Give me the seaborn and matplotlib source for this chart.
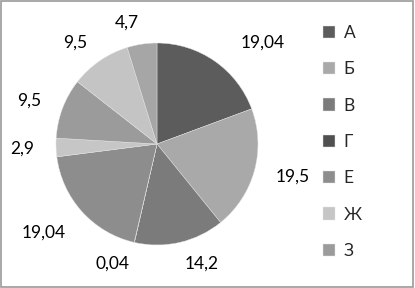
import matplotlib
matplotlib.use("Agg")
import matplotlib.pyplot as plt
import seaborn as sns
from matplotlib.patches import Rectangle

categories = ["А", "Б", "В", "Г", "Е", "Ж", "З", "И", "К"]
values = [19.04, 19.5, 14.2, 0.04, 19.04, 2.9, 9.5, 9.5, 4.7]
colors = ["#5c5c5c", "#a9a9a9", "#7b7b7b", "#505050", "#8d8d8d",
          "#c6c6c6", "#9b9b9b", "#c4c4c4", "#a6a6a6"]
legend_count = 7

sns.set_style("white")
plt.rcParams["font.family"] = ["Lato", "DejaVu Sans"]

fig = plt.figure(figsize=(4.15, 2.88), dpi=100)
ax = fig.add_axes([56 / 415, 43 / 288, 202 / 415, 202 / 288])

labels = [f"{v:g}".replace(".", ",") for v in values]
wedges, texts = ax.pie(values, colors=colors, startangle=90, counterclock=False,
                       labels=labels, labeldistance=1.22,
                       wedgeprops=dict(edgecolor="#e6e6e6", linewidth=0.3),
                       textprops=dict(fontsize=12.5, color="black"))
ax.set_xlim(-1, 1)
ax.set_ylim(-1, 1)
ax.set_aspect("equal")
for t in texts:
    t.set_clip_on(False)
# Excel puts the first label a bit further right
x0, y0 = texts[0].get_position()
texts[0].set_position((x0 + 0.13, y0))
x4, y4 = texts[4].get_position()
texts[4].set_position((x4, y4 - 0.06))

leg = fig.legend(wedges[:legend_count], categories[:legend_count],
                 loc="upper left", bbox_to_anchor=(316 / 415, 1 - 18 / 288),
                 frameon=False, fontsize=12.5, handlelength=0.7, handleheight=0.7,
                 handletextpad=0.5, labelspacing=1.17, borderaxespad=0)

fig.patches.append(Rectangle((0.002, 0.004), 0.994, 0.992, transform=fig.transFigure,
                             fill=False, edgecolor="#9a9a9a", linewidth=1.2))

fig.savefig("out.png", dpi=100)
